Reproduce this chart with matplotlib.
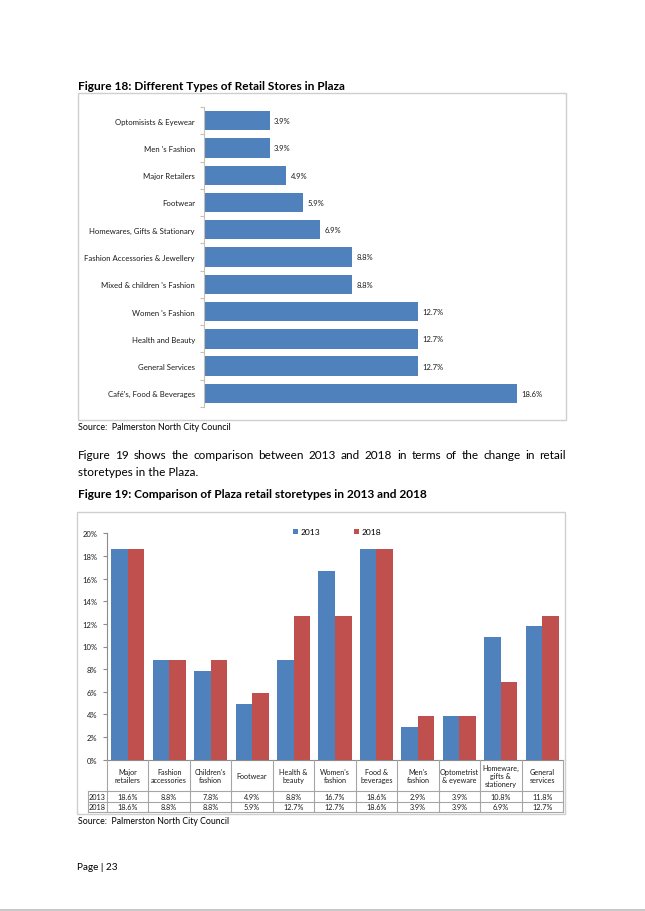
import matplotlib
matplotlib.use('Agg')
import matplotlib.pyplot as plt
import matplotlib.transforms as mtransforms
from matplotlib.patches import Rectangle, Patch
from matplotlib.lines import Line2D

# ---------------- data ----------------
fig18_categories = ["Optomisists & Eyewear", "Men 's Fashion", "Major Retailers", "Footwear",
                    "Homewares, Gifts & Stationary", "Fashion Accessories & Jewellery",
                    "Mixed & children 's Fashion", "Women 's Fashion", "Health and Beauty",
                    "General Services", "Café's, Food & Beverages"]
fig18_values = [3.9, 3.9, 4.9, 5.9, 6.9, 8.8, 8.8, 12.7, 12.7, 12.7, 18.6]

fig19_categories = ["Major\nretailers", "Fashion\naccessories", "Children's\nfashion", "Footwear",
                    "Health &\nbeauty", "Women's\nfashion", "Food &\nbeverages", "Men's\nfashion",
                    "Optometrist\n& eyeware", "Homeware,\ngifts &\nstationery", "General\nservices"]
values_2013 = [18.6, 8.8, 7.8, 4.9, 8.8, 16.7, 18.6, 2.9, 3.9, 10.8, 11.8]
values_2018 = [18.6, 8.8, 8.8, 5.9, 12.7, 12.7, 18.6, 3.9, 3.9, 6.9, 12.7]
series_names = ["2013", "2018"]
y_ticks = [0, 2, 4, 6, 8, 10, 12, 14, 16, 18, 20]

BLUE = "#4F81BD"
RED = "#C0504D"

W, H = 645, 912
plt.rcParams['font.family'] = ['Lato', 'DejaVu Sans']
fig = plt.figure(figsize=(W / 100, H / 100), dpi=100)
fig.patch.set_facecolor('white')
renderer = fig.canvas.get_renderer()


def fx(x):
    return x / W


def fy(y):
    return 1 - y / H


def rect(l, t, r, b):
    return [l / W, 1 - b / H, (r - l) / W, (b - t) / H]


def fit_text(x, y, s, width, size0=9, **kw):
    t = fig.text(fx(x), fy(y), s, fontsize=size0, va='baseline', ha='left', color='black', **kw)
    bb = t.get_window_extent(renderer=renderer)
    t.set_fontsize(size0 * width / bb.width)
    return t


def frame(l, t, r, b):
    fig.add_artist(Rectangle((fx(l), fy(b)), (r - l) / W, (b - t) / H, transform=fig.transFigure,
                             fill=False, ec='#cfcfcf', lw=1.0))


def hline(y, x0, x1, **kw):
    fig.add_artist(Line2D([fx(x0), fx(x1)], [fy(y), fy(y)], transform=fig.transFigure, **kw))


def vline(x, y0, y1, **kw):
    fig.add_artist(Line2D([fx(x), fx(x)], [fy(y0), fy(y1)], transform=fig.transFigure, **kw))


# ---------------- page text ----------------
fit_text(78, 90, "Figure 18: Different Types of Retail Stores in Plaza", 268, fontweight='bold')
fit_text(78, 430.5, "Source:  Palmerston North City Council", 153)

# body paragraph (first line justified)
t2 = fit_text(78, 475.5, "storetypes in the Plaza.", 120)
body_size = t2.get_fontsize()
line1 = "Figure 19 shows the comparison between 2013 and 2018 in terms of the change in retail"
words = line1.split()
wts = []
widths = []
for w in words:
    t = fig.text(0, 0, w, fontsize=body_size, va='baseline')
    widths.append(t.get_window_extent(renderer=renderer).width)
    wts.append(t)
gap = (566 - 78 - sum(widths)) / (len(words) - 1)
xcur = 78
for t, wd in zip(wts, widths):
    t.set_position((fx(xcur), fy(459.3)))
    xcur += wd + gap

fit_text(78, 498, "Figure 19: Comparison of Plaza retail storetypes in 2013 and 2018", 352, fontweight='bold')
fit_text(78, 824, "Source:  Palmerston North City Council", 152)
fit_text(77, 870.5, "Page | 23", 41)
hline(910.5, 0, W, color='#bdbdbd', lw=1.2)

frame(78, 94, 566, 421)
frame(77, 513, 565, 815)

# ---------------- Figure 18 ----------------
ax1 = fig.add_axes(rect(204, 108, 540.6, 408))
ypos = list(range(len(fig18_categories)))
ax1.barh(ypos, fig18_values, height=0.71, color=BLUE, edgecolor='none')
ax1.set_xlim(0, 20)
ax1.set_ylim(len(fig18_categories) - 0.5, -0.5)
for s in ['top', 'right', 'bottom']:
    ax1.spines[s].set_visible(False)
ax1.spines['left'].set_color('#c8bfb5')
ax1.spines['left'].set_linewidth(0.8)
ax1.set_xticks([])
ax1.set_yticks(ypos)
ax1.set_yticklabels(fig18_categories, fontsize=5.6, color='#1a1a1a')
ax1.tick_params(axis='y', which='major', length=0, pad=6.5)
ax1.set_yticks([i - 0.5 for i in range(len(fig18_categories) + 1)], minor=True)
ax1.tick_params(axis='y', which='minor', length=3, color='#c8bfb5', width=0.8)
for yv, v in zip(ypos, fig18_values):
    ax1.annotate(f"{v:.1f}%", (v, yv), xytext=(3.2, 0), textcoords='offset points',
                 va='center', ha='left', fontsize=5.5, color='#1a1a1a')

# ---------------- Figure 19 ----------------
L, R, T, B = 107, 563, 534.3, 760.7
ax2 = fig.add_axes(rect(L, T, R, B))
n = len(fig19_categories)
xs = list(range(n))
ax2.bar([x - 0.2 for x in xs], values_2013, width=0.4, color=BLUE, edgecolor='none')
ax2.bar([x + 0.2 for x in xs], values_2018, width=0.4, color=RED, edgecolor='none')
ax2.set_xlim(-0.5, n - 0.5)
ax2.set_ylim(0, 20)
ax2.set_yticks(y_ticks)
ax2.set_yticklabels([f"{v}%" for v in y_ticks], fontsize=5.5, color='#1a1a1a')
ax2.tick_params(axis='y', length=3, color='#8c8c8c', width=0.8, pad=4)
ax2.set_xticks([])
for s in ['top', 'right']:
    ax2.spines[s].set_visible(False)
for s in ['left', 'bottom']:
    ax2.spines[s].set_color('#8c8c8c')
    ax2.spines[s].set_linewidth(0.8)

# legend
handles = [Patch(facecolor=BLUE, edgecolor='none'), Patch(facecolor=RED, edgecolor='none')]
fig.legend(handles, series_names, loc='center', bbox_to_anchor=(fx(337), fy(533)), ncol=2,
           frameon=False, fontsize=6.1, handlelength=0.6, handleheight=0.6, handletextpad=0.3,
           columnspacing=3.9, borderpad=0)

# data table
tr = mtransforms.blended_transform_factory(ax2.transData, fig.transFigure)
grid_kw = dict(color='#a6a6a6', lw=0.8)
for i in range(n + 1):
    fig.add_artist(Line2D([i - 0.5, i - 0.5], [fy(B), fy(813)], transform=tr, **grid_kw))
vline(88, 792, 813, **grid_kw)
for yy in [792, 802.5, 813]:
    hline(yy, 88, R, **grid_kw)
for i, c in enumerate(fig19_categories):
    fig.text(i, fy(776.5), c, transform=tr, ha='center', va='center', fontsize=5.2,
             color='#1a1a1a', linespacing=1.12)
    fig.text(i, fy(797.5), f"{values_2013[i]:.1f}%", transform=tr, ha='center', va='center',
             fontsize=5.2, color='#1a1a1a')
    fig.text(i, fy(808), f"{values_2018[i]:.1f}%", transform=tr, ha='center', va='center',
             fontsize=5.2, color='#1a1a1a')
fig.text(fx(97.5), fy(797.5), series_names[0], ha='center', va='center', fontsize=5.2, color='#1a1a1a')
fig.text(fx(97.5), fy(808), series_names[1], ha='center', va='center', fontsize=5.2, color='#1a1a1a')

fig.savefig('out.png', dpi=100, facecolor='white')
